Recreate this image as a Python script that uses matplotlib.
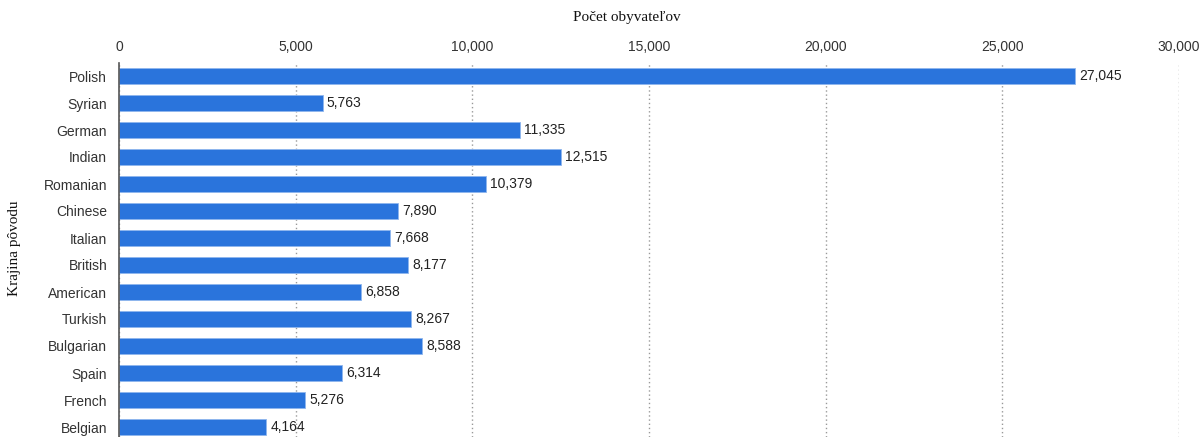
import matplotlib
matplotlib.use("Agg")
import matplotlib.pyplot as plt

countries = ["Polish", "Syrian", "German", "Indian", "Romanian", "Chinese", "Italian",
             "British", "American", "Turkish", "Bulgarian", "Spain", "French", "Belgian"]
residents = [27045, 5763, 11335, 12515, 10379, 7890, 7668,
             8177, 6858, 8267, 8588, 6314, 5276, 4164]
x_ticks = [0, 5000, 10000, 15000, 20000, 25000, 30000]

W, H = 1204, 437
fig = plt.figure(figsize=(W / 100, H / 100), dpi=100)
ax = fig.add_axes([119 / W, 0, (1179 - 119) / W, 1 - 62.5 / H])

pos = list(range(len(countries)))
ax.barh(pos, residents, height=0.6, color="#2a74dc", edgecolor="#8fb6ee",
        linewidth=0.6, zorder=3)
for y, v in zip(pos, residents):
    ax.text(v + 120, y, f"{v:,}", va="center", ha="left", fontsize=10,
            color="#222222", family="Liberation Sans", zorder=4)

ax.set_xlim(0, 30000)
ax.set_ylim(13 + 10 / 27, -0.5)
ax.set_yticks(pos)
ax.set_yticklabels(countries, fontsize=10, color="#333333", family="Liberation Sans")
ax.set_xticks(x_ticks)
ax.set_xticklabels([f"{t:,}" for t in x_ticks], fontsize=10, color="#333333",
                   family="Liberation Sans")
ax.xaxis.tick_top()
ax.tick_params(axis="x", length=0, pad=6)
ax.tick_params(axis="y", length=0, pad=8.5)
ax.grid(axis="x", linestyle=(0, (1, 2)), color="#999999", linewidth=1, zorder=0)
for s in ["top", "right", "bottom"]:
    ax.spines[s].set_visible(False)
ax.spines["left"].set_color("#555555")
ax.spines["left"].set_linewidth(1.2)
ax.spines["left"].set_zorder(5)

fig.text(627 / W, 1 - 18 / H, "Počet obyvateľov", ha="center", va="center",
         fontsize=11, family="Liberation Serif", color="#111111")
fig.text(15 / W, 1 - 248 / H, "Krajina pôvodu", ha="center", va="center",
         rotation=90, fontsize=11, family="Liberation Serif", color="#111111")

fig.savefig("out.png", dpi=100)
